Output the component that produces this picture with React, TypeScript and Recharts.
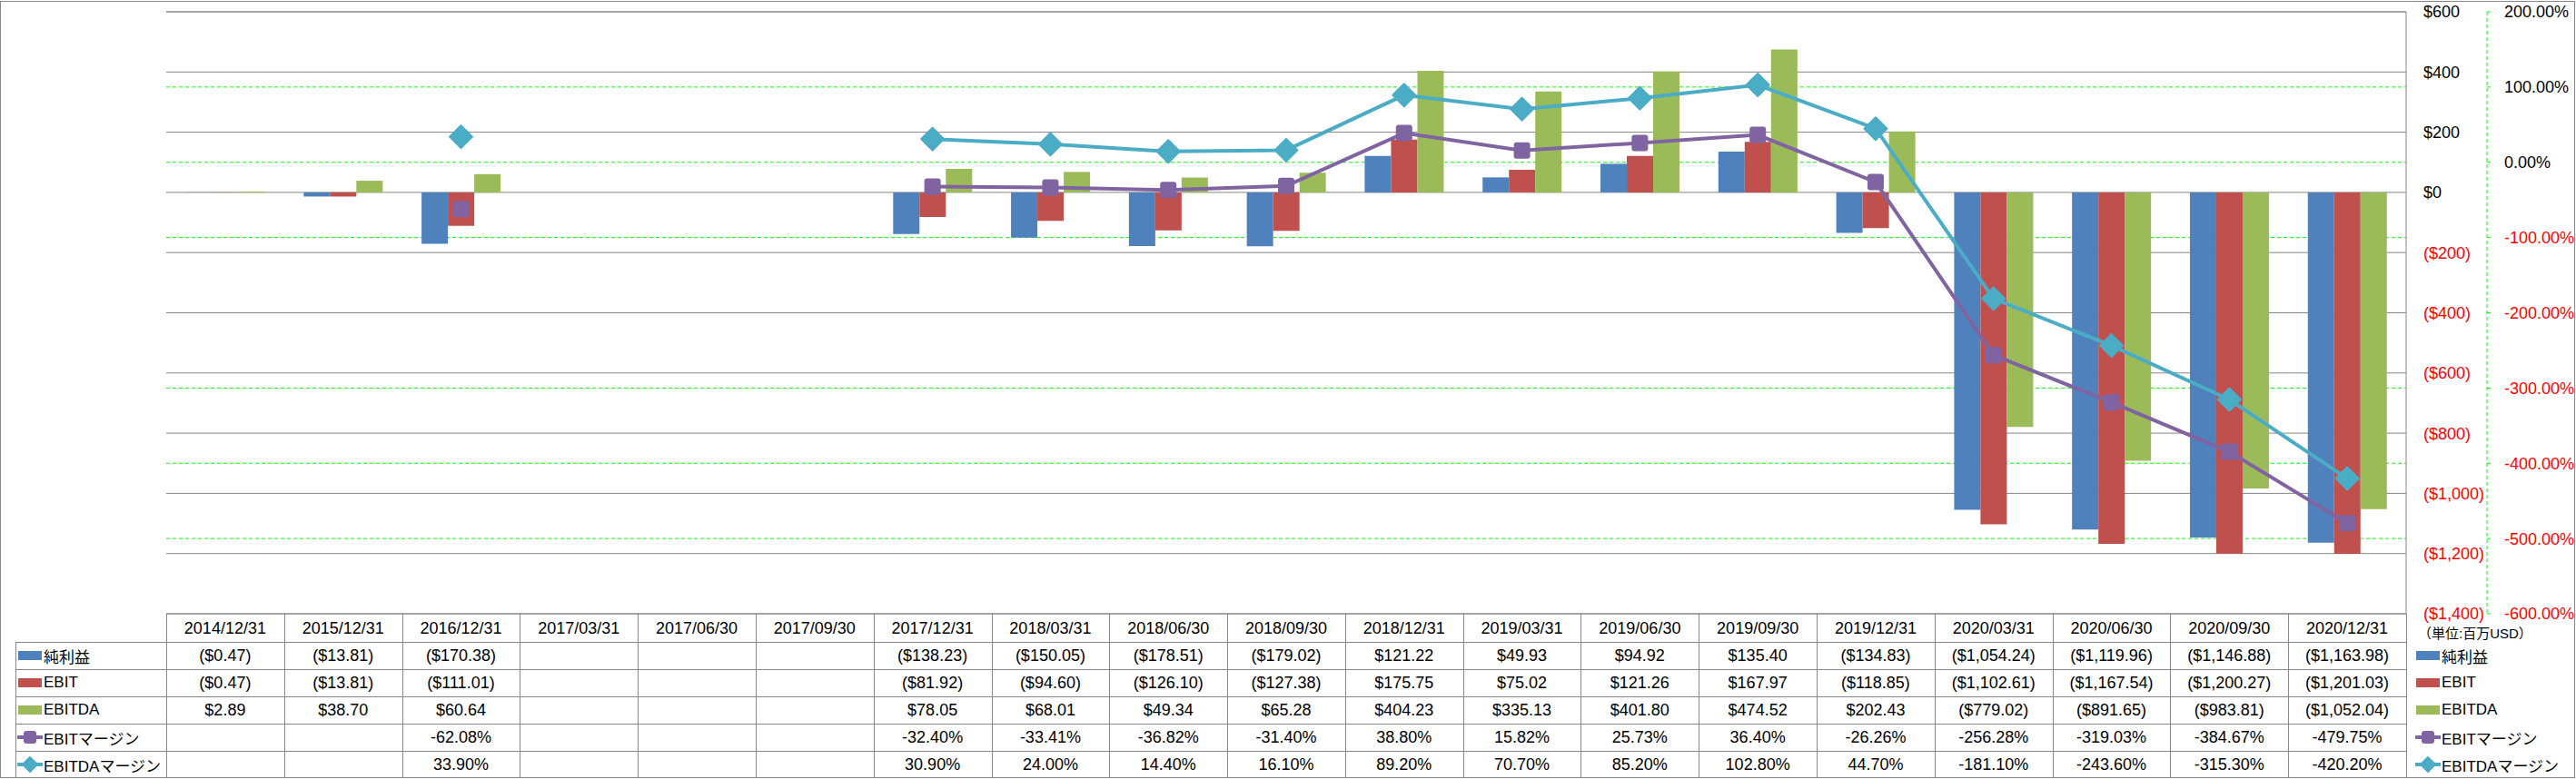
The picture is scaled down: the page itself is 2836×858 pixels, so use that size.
import React from 'react';
import { ComposedChart, Bar, Line, XAxis, YAxis, CartesianGrid, ReferenceLine } from 'recharts';

const categories = [
  '2014/12/31', '2015/12/31', '2016/12/31', '2017/03/31', '2017/06/30', '2017/09/30',
  '2017/12/31', '2018/03/31', '2018/06/30', '2018/09/30', '2018/12/31', '2019/03/31',
  '2019/06/30', '2019/09/30', '2019/12/31', '2020/03/31', '2020/06/30', '2020/09/30', '2020/12/31',
];
const netIncome = [-0.47, -13.81, -170.38, null, null, null, -138.23, -150.05, -178.51, -179.02, 121.22, 49.93, 94.92, 135.40, -134.83, -1054.24, -1119.96, -1146.88, -1163.98];
const ebit = [-0.47, -13.81, -111.01, null, null, null, -81.92, -94.60, -126.10, -127.38, 175.75, 75.02, 121.26, 167.97, -118.85, -1102.61, -1167.54, -1200.27, -1201.03];
const ebitda = [2.89, 38.70, 60.64, null, null, null, 78.05, 68.01, 49.34, 65.28, 404.23, 335.13, 401.80, 474.52, 202.43, -779.02, -891.65, -983.81, -1052.04];
const ebitMargin = [null, null, -62.08, null, null, null, -32.40, -33.41, -36.82, -31.40, 38.80, 15.82, 25.73, 36.40, -26.26, -256.28, -319.03, -384.67, -479.75];
const ebitdaMargin = [null, null, 33.90, null, null, null, 30.90, 24.00, 14.40, 16.10, 89.20, 70.70, 85.20, 102.80, 44.70, -181.10, -243.60, -315.30, -420.20];
const usdTicks = [600, 400, 200, 0, -200, -400, -600, -800, -1000, -1200, -1400];
const pctTicks = [200, 100, 0, -100, -200, -300, -400, -500, -600];
const pctGridValues = [100, 0, -100, -200, -300, -400, -500];

const C_NET = '#4F81BD';
const C_EBIT = '#C0504D';
const C_EBITDA = '#9BBB59';
const C_EM = '#8064A2';
const C_EDM = '#4BACC6';
const GRAY = '#868686';
const GREEN = '#00FF00';
const FONT = "'Liberation Sans', 'Noto Sans CJK JP', sans-serif";

const W = 2836;
const H = 858;
const PLOT_LEFT = 183;
const PLOT_RIGHT = 2649;
const PLOT_TOP = 13;
const PLOT_BOTTOM = 676;
const HEADER_H = 31;
const ROW_H = 30;
const LABEL_LEFT = 17;
const COL_W = (PLOT_RIGHT - PLOT_LEFT) / categories.length;

const data = categories.map((d, i) => ({
  date: d,
  net: netIncome[i],
  ebit: ebit[i],
  ebitda: ebitda[i],
  em: ebitMargin[i],
  edm: ebitdaMargin[i],
}));

const fmtUsd = (v: number | null) => {
  if (v === null || v === undefined) return '';
  const s = Math.abs(v).toLocaleString('en-US', { minimumFractionDigits: 2, maximumFractionDigits: 2 });
  return v < 0 ? `($${s})` : `$${s}`;
};
const fmtPct = (v: number | null) => (v === null || v === undefined ? '' : `${v.toFixed(2)}%`);
const fmtUsdTick = (v: number) => {
  const s = Math.abs(v).toLocaleString('en-US');
  return v < 0 ? `($${s})` : `$${s}`;
};

const UsdTick = (p: any) => {
  const v = p.payload.value;
  return (
    <text x={p.x} y={p.y} dy="0.36em" textAnchor="start" fontFamily={FONT} fontSize={18} fill={v < 0 ? '#FF0000' : '#000'}>
      {fmtUsdTick(v)}
    </text>
  );
};
const PctTick = (p: any) => {
  const v = p.payload.value;
  return (
    <text x={p.x} y={p.y} dy="0.36em" textAnchor="start" fontFamily={FONT} fontSize={18} fill={v < 0 ? '#FF0000' : '#000'}>
      {`${v.toFixed(2)}%`}
    </text>
  );
};
const DateTick = (p: any) => (
  <text x={p.x} y={p.y + HEADER_H / 2} dy="0.36em" textAnchor="middle" fontFamily={FONT} fontSize={18} fill="#000">
    {p.payload.value}
  </text>
);

const SquareDot = (p: any) => {
  if (p.cx == null || p.cy == null || p.value == null) return <g key={`s-${p.index}`} />;
  return <rect key={`s-${p.index}`} x={p.cx - 9} y={p.cy - 9} width={18} height={18} rx={3} ry={3} fill={C_EM} />;
};
const DiamondDot = (p: any) => {
  if (p.cx == null || p.cy == null || p.value == null) return <g key={`d-${p.index}`} />;
  const r = 12.5;
  return (
    <polygon
      key={`d-${p.index}`}
      points={`${p.cx},${p.cy - r} ${p.cx + r},${p.cy} ${p.cx},${p.cy + r} ${p.cx - r},${p.cy}`}
      fill={C_EDM}
      stroke={C_EDM}
      strokeWidth={2}
      strokeLinejoin="round"
    />
  );
};

const seriesRows = [
  { name: '純利益', kind: 'bar', color: C_NET, values: netIncome, fmt: fmtUsd },
  { name: 'EBIT', kind: 'bar', color: C_EBIT, values: ebit, fmt: fmtUsd },
  { name: 'EBITDA', kind: 'bar', color: C_EBITDA, values: ebitda, fmt: fmtUsd },
  { name: 'EBITマージン', kind: 'square', color: C_EM, values: ebitMargin, fmt: fmtPct },
  { name: 'EBITDAマージン', kind: 'diamond', color: C_EDM, values: ebitdaMargin, fmt: fmtPct },
];

const LegendKey = ({ kind, color }: { kind: string; color: string }) => {
  if (kind === 'bar') {
    return (
      <svg width={28} height={20} style={{ display: 'block' }}>
        <rect x={1} y={5} width={26} height={10} fill={color} />
      </svg>
    );
  }
  return (
    <svg width={28} height={20} style={{ display: 'block' }}>
      <line x1={1} y1={10} x2={27} y2={10} stroke={color} strokeWidth={4} strokeLinecap="round" />
      {kind === 'square' ? (
        <rect x={7} y={3} width={14} height={14} rx={3} fill={color} />
      ) : (
        <polygon points="14,2 22,10 14,18 6,10" fill={color} stroke={color} strokeWidth={2} strokeLinejoin="round" />
      )}
    </svg>
  );
};

const USD = 'a1';
const PCT = 'a2';

export default function App() {
  const tableTop = PLOT_BOTTOM + HEADER_H;
  return (
    <div
      style={{
        position: 'absolute',
        left: 0,
        top: 0,
        width: W,
        height: H,
        background: '#fff',
        fontFamily: FONT,
      }}
    >
      <div style={{ position: 'absolute', left: 0, top: 1, width: W - 1, height: H - 2, border: `1px solid ${GRAY}`, boxSizing: 'border-box' }} />
      <div style={{ position: 'absolute', left: 0, top: 0 }}>
        <ComposedChart
          width={W}
          height={H}
          data={data}
          margin={{ top: PLOT_TOP, left: PLOT_LEFT, right: 0, bottom: H - PLOT_BOTTOM - HEADER_H }}
          barCategoryGap="16.6%"
          barGap={0}
        >
          <CartesianGrid
            yAxisId={PCT}
            vertical={false}
            horizontalValues={pctGridValues}
            stroke={GREEN}
            strokeDasharray="4 3"
          />
          <CartesianGrid yAxisId={USD} vertical={false} horizontalValues={usdTicks} stroke={GRAY} />
          <ReferenceLine yAxisId={USD} y={usdTicks[0]} stroke={GRAY} strokeWidth={1} />
          <XAxis
            dataKey="date"
            height={HEADER_H}
            interval={0}
            axisLine={{ stroke: GRAY }}
            tickLine={false}
            tickSize={0}
            tickMargin={0}
            tick={<DateTick />}
          />
          <YAxis
            yAxisId={USD}
            orientation="right"
            width={89}
            domain={[-1400, 600]}
            ticks={usdTicks}
            interval={0}
            axisLine={{ stroke: GRAY }}
            tickLine={false}
            tickSize={6}
            tickMargin={13}
            tick={<UsdTick />}
          />
          <YAxis
            yAxisId={PCT}
            orientation="right"
            width={98}
            domain={[-600, 200]}
            ticks={pctTicks}
            interval={0}
            axisLine={{ stroke: GREEN, strokeDasharray: '4 3' }}
            tickLine={{ stroke: GREEN }}
            tickSize={4}
            tickMargin={15}
            tick={<PctTick />}
          />
          <Bar yAxisId={USD} dataKey="net" fill={C_NET} isAnimationActive={false} />
          <Bar yAxisId={USD} dataKey="ebit" fill={C_EBIT} isAnimationActive={false} />
          <Bar yAxisId={USD} dataKey="ebitda" fill={C_EBITDA} isAnimationActive={false} />
          <Line
            yAxisId={PCT}
            dataKey="em"
            stroke={C_EM}
            strokeWidth={4}
            dot={SquareDot}
            activeDot={false}
            connectNulls={false}
            isAnimationActive={false}
          />
          <Line
            yAxisId={PCT}
            dataKey="edm"
            stroke={C_EDM}
            strokeWidth={4}
            dot={DiamondDot}
            activeDot={false}
            connectNulls={false}
            isAnimationActive={false}
          />
        </ComposedChart>
      </div>

      {/* header column dividers */}
      {categories.map((c, i) => (
        <div
          key={`hv-${c}`}
          style={{
            position: 'absolute',
            left: Math.round(PLOT_LEFT + i * COL_W),
            top: PLOT_BOTTOM,
            width: 1,
            height: H - 1 - PLOT_BOTTOM,
            background: GRAY,
          }}
        />
      ))}
      <div style={{ position: 'absolute', left: PLOT_RIGHT, top: PLOT_BOTTOM, width: 1, height: H - 1 - PLOT_BOTTOM, background: GRAY }} />
      <div style={{ position: 'absolute', left: LABEL_LEFT, top: tableTop, width: 1, height: H - 1 - tableTop, background: GRAY }} />

      {seriesRows.map((row, r) => {
        const top = tableTop + r * ROW_H;
        return (
          <React.Fragment key={row.name}>
            <div style={{ position: 'absolute', left: LABEL_LEFT, top, width: PLOT_RIGHT - LABEL_LEFT, height: 1, background: GRAY }} />
            <div
              style={{
                position: 'absolute',
                left: LABEL_LEFT + 2,
                top,
                height: ROW_H,
                display: 'flex',
                alignItems: 'center',
                fontSize: 17,
                color: '#000',
                whiteSpace: 'nowrap',
              }}
            >
              <LegendKey kind={row.kind} color={row.color} />
              <span style={{ marginLeft: 1 }}>{row.name}</span>
            </div>
            {categories.map((c, i) => (
              <div
                key={`${row.name}-${c}`}
                style={{
                  position: 'absolute',
                  left: PLOT_LEFT + i * COL_W,
                  top,
                  width: COL_W,
                  height: ROW_H,
                  lineHeight: `${ROW_H}px`,
                  textAlign: 'center',
                  fontSize: 18,
                  color: '#000',
                  whiteSpace: 'nowrap',
                }}
              >
                {row.fmt(row.values[i])}
              </div>
            ))}
          </React.Fragment>
        );
      })}

      {/* legend on the right */}
      <div style={{ position: 'absolute', left: 2662, top: 688, fontSize: 15, color: '#000', whiteSpace: 'nowrap', lineHeight: '20px' }}>
        （単位:百万USD）
      </div>
      {seriesRows.map((row, r) => (
        <div
          key={`lg-${row.name}`}
          style={{
            position: 'absolute',
            left: 2659,
            top: 712 + r * ROW_H,
            height: 20,
            display: 'flex',
            alignItems: 'center',
            fontSize: 17,
            color: '#000',
            whiteSpace: 'nowrap',
          }}
        >
          <LegendKey kind={row.kind} color={row.color} />
          <span style={{ marginLeft: 1 }}>{row.name}</span>
        </div>
      ))}
    </div>
  );
}
